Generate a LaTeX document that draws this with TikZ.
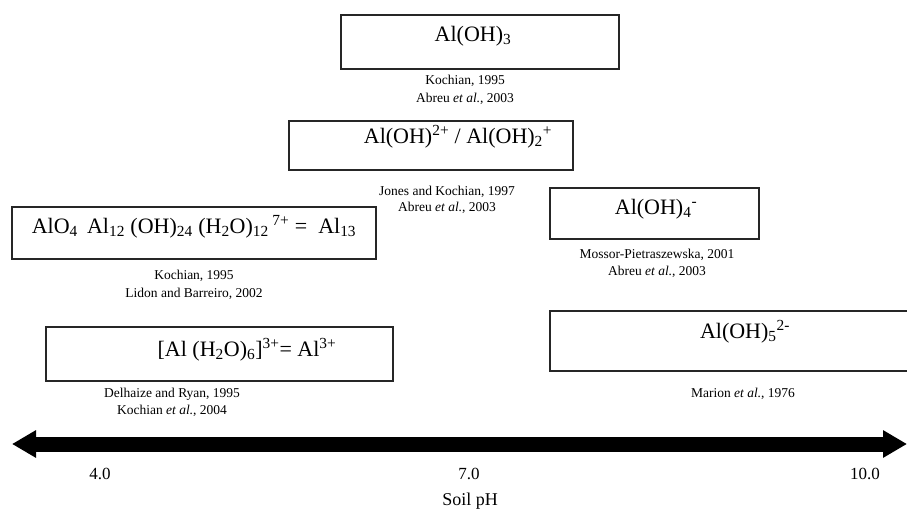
\documentclass[tikz,border=0pt]{standalone}
\usepackage{fontspec}
\setmainfont{Liberation Serif}
\usetikzlibrary{arrows.meta}
\tikzset{
  box/.style={draw=black!85, line width=1.3pt, inner sep=0pt},
  formula/.style={font=\fontsize{22}{26}\selectfont, inner sep=0pt},
  refs/.style={font=\fontsize{13.5}{17}\selectfont, align=center, inner sep=0pt},
  axislbl/.style={font=\fontsize{17}{20}\selectfont, inner sep=0pt},
  phlbl/.style={font=\fontsize{18}{20}\selectfont, inner sep=0pt},
  phaxis/.style={line width=15pt, {Triangle[length=24pt,width=26pt]}-{Triangle[length=24pt,width=26pt]}}
}
\begin{document}
\begin{tikzpicture}[x=1pt,y=-1pt]
\useasboundingbox (0,0) rectangle (907,513);
% boxes
\node[box, minimum width=278pt, minimum height=54pt] (b1) at (480,42) {};
\node[box, minimum width=284pt, minimum height=49pt] (b2) at (431,145.5) {};
\node[box, minimum width=364pt, minimum height=52pt] (b3) at (194,233) {};
\node[box, minimum width=209pt, minimum height=51pt] (b4) at (654.5,213.5) {};
\node[box, minimum width=347pt, minimum height=54pt] (b5) at (219.5,354) {};
\draw[draw=black!85, line width=1.3pt] (910,311) -- (550,311) -- (550,371) -- (910,371);
\coordinate (b6) at (730,341);
% formulas
\node[formula] (f1) at (473,36) {Al(OH)\textsubscript{3}};
\node[formula] (f2) at (458,137) {Al(OH)\textsuperscript{2+} / Al(OH)\textsubscript{2}\textsuperscript{+}};
\node[formula] (f3) at (194,227) {AlO\textsubscript{4}\ \,Al\textsubscript{12} (OH)\textsubscript{24} (H\textsubscript{2}O)\textsubscript{12}\,\textsuperscript{7+} = \ Al\textsubscript{13}};
\node[formula] (f4) at (656,209) {Al(OH)\textsubscript{4}\textsuperscript{-}};
\node[formula] (f5) at (247,350) {[Al (H\textsubscript{2}O)\textsubscript{6}]\textsuperscript{3+}= Al\textsuperscript{3+}};
\node[formula] (f6) at (745,332) {Al(OH)\textsubscript{5}\textsuperscript{2-}};
% references
\node[refs] (r1a) at (465,81) {Kochian, 1995};
\node[refs] (r1b) at (465,99) {Abreu \textit{et al.}, 2003};
\node[refs] (r2a) at (447,192) {Jones and Kochian, 1997};
\node[refs] (r2b) at (447,208) {Abreu \textit{et al.}, 2003};
\node[refs] (r3a) at (194,276) {Kochian, 1995};
\node[refs] (r3b) at (194,294) {Lidon and Barreiro, 2002};
\node[refs] (r4a) at (657,255) {Mossor-Pietraszewska, 2001};
\node[refs] (r4b) at (657,272) {Abreu \textit{et al.}, 2003};
\node[refs] (r5a) at (172,394) {Delhaize and Ryan, 1995};
\node[refs] (r5b) at (172,411) {Kochian \textit{et al.}, 2004};
\node[refs] (r6a) at (743,394) {Marion \textit{et al.}, 1976};
% axis
\coordinate (aL) at (12,444);
\coordinate (aR) at (907,444);
\draw[phaxis] (aL) -- (aR);
\node[axislbl] (t4) at (100,474) {4.0};
\node[axislbl] (t7) at (469,474) {7.0};
\node[axislbl] (t10) at (865,474) {10.0};
\node[phlbl] (ph) at (470,501) {Soil pH};
\end{tikzpicture}
\end{document}
